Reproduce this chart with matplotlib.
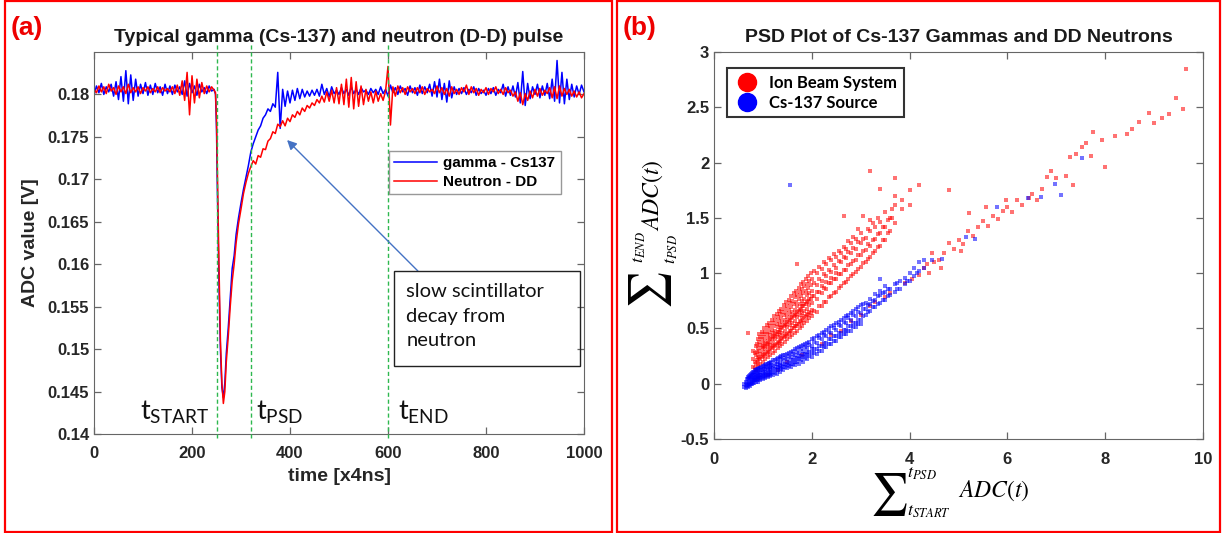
import numpy as np
import matplotlib

matplotlib.use("Agg")
import matplotlib.pyplot as plt
from matplotlib.lines import Line2D
from matplotlib.patches import Rectangle

# ---- panel (a): pulse traces, values in mV -------------------------------
T_BASE = list(range(0, 250, 5))
T_PULSE = [248, 250, 252, 255, 258, 261, 264, 267, 270, 274,
           278, 282, 286, 290, 295, 300, 305, 310, 315, 320]
T_TAIL = list(range(325, 1001, 5))

GAMMA_BASE = [179.9, 181.0, 180.2, 181.3, 180.0, 180.9, 180.3, 181.2, 179.8, 181.5,
              179.4, 182.1, 179.2, 182.8, 178.9, 182.3, 179.3, 181.8, 179.8, 181.2,
              180.1, 181.4, 179.9, 181.1, 180.0, 181.3, 180.2, 180.9, 179.9, 181.2,
              180.1, 181.0, 180.0, 181.1, 180.3, 180.9, 180.0, 181.6, 179.8, 181.3,
              180.2, 181.0, 179.9, 181.2, 180.3, 180.8, 180.1, 181.0, 180.4, 180.6]
GAMMA_PULSE = [180.0, 176.0, 168.0, 158.0, 150.0, 145.5, 144.3, 146.0, 149.5, 152.5,
               156.0, 159.5, 161.0, 163.5, 165.5, 167.2, 168.8, 170.2, 171.6, 173.2]
GAMMA_TAIL = [174.2, 175.0, 175.8, 176.3, 177.2, 177.6, 178.3, 178.0, 178.9, 178.5,
              182.6, 176.0, 180.6, 178.6, 180.4, 179.0, 180.5, 179.3, 180.7, 179.5,
              180.6, 179.7, 180.4, 179.8, 180.5, 179.9, 180.6, 179.8, 181.2, 180.0,
              180.7, 179.7, 180.9, 180.1, 180.5, 180.0, 180.8, 180.1, 180.6, 179.9,
              180.9, 180.1, 180.6, 180.0, 180.8, 180.3, 180.5, 180.0, 180.7, 180.2,
              180.6, 180.0, 180.9, 180.1, 180.6, 179.8, 181.1, 180.2, 180.8, 180.0,
              181.0, 180.3, 180.7, 179.9, 181.0, 180.2, 180.8, 179.9, 181.1, 180.1,
              180.9, 180.2, 181.2, 179.8, 181.5, 179.7, 181.8, 179.4, 181.3, 179.1,
              181.6, 179.6, 180.9, 180.0, 180.7, 180.1, 180.8, 180.0, 180.6, 180.2,
              180.9, 179.9, 180.7, 180.1, 180.5, 179.9, 180.7, 180.1, 180.8, 179.9,
              180.6, 180.2, 181.2, 179.8, 180.9, 179.9, 181.0, 179.7, 181.4, 179.0,
              182.7, 178.7, 181.3, 179.5, 180.9, 180.0, 181.2, 179.6, 181.0, 179.9,
              181.3, 179.5, 181.8, 179.2, 184.0, 179.0, 182.6, 178.9, 181.8, 179.4,
              181.2, 179.7, 181.0, 180.0, 181.1, 180.3]

NEUTRON_BASE = [180.6, 180.2, 181.0, 180.3, 180.9, 180.1, 181.2, 180.4, 180.8, 180.0,
                181.0, 180.3, 180.9, 180.1, 181.2, 180.2, 180.8, 180.3, 180.9, 180.1,
                180.8, 180.4, 180.9, 180.2, 180.7, 180.3, 180.9, 180.2, 180.8, 180.4,
                180.7, 180.3, 180.9, 180.1, 181.1, 179.9, 181.6, 179.3, 182.6, 177.6,
                182.2, 179.0, 181.8, 179.6, 181.4, 180.1, 181.0, 180.3, 180.9, 180.5]
NEUTRON_PULSE = [180.2, 177.0, 170.0, 160.0, 151.0, 146.0, 143.6, 145.0, 148.5, 151.5,
                 155.0, 158.0, 160.0, 162.5, 164.8, 166.5, 168.3, 169.6, 170.7, 171.5]
NEUTRON_TAIL = [172.2, 171.8, 172.8, 172.6, 173.6, 173.5, 174.5, 174.8, 175.6, 175.4,
                176.5, 176.2, 176.9, 176.3, 177.2, 176.8, 177.6, 177.3, 178.0, 177.6,
                178.4, 178.0, 178.7, 178.4, 179.0, 178.7, 179.4, 179.0, 179.8, 179.1,
                180.3, 179.2, 180.5, 179.0, 180.8, 178.9, 181.2, 178.8, 181.8, 178.5,
                182.0, 178.3, 181.5, 178.6, 181.0, 178.8, 180.6, 179.2, 180.3, 179.0,
                180.4, 179.2, 180.1, 179.3, 180.4, 183.3, 176.4, 180.9, 179.8, 181.0,
                180.2, 180.8, 180.0, 180.9, 180.3, 180.7, 180.1, 180.8, 180.2, 180.9,
                180.0, 180.7, 180.3, 180.6, 180.1, 181.0, 180.2, 180.8, 180.0, 180.7,
                179.8, 180.9, 180.1, 180.6, 180.0, 180.8, 180.3, 181.1, 180.0, 180.9,
                180.2, 180.7, 179.9, 180.6, 180.2, 180.8, 180.0, 180.7, 180.3, 180.9,
                180.1, 180.6, 180.0, 180.8, 180.2, 180.5, 179.8, 180.3, 179.2, 180.2,
                178.8, 180.1, 179.3, 180.4, 179.6, 180.6, 179.8, 180.7, 179.9, 180.5,
                180.1, 180.8, 179.6, 180.9, 179.5, 181.0, 179.8, 180.7, 180.0, 180.6,
                179.8, 180.4, 179.7, 180.3, 179.6, 180.1]

MARKERS_T = [250, 320, 600]  # t_START, t_PSD, t_END

# ---- panel (b): PSD scatter, (x, [y values]) groups ------------------------
GAMMA_GROUPS = [
    (0.62, [-0.03, 0.0]), (0.66, [-0.04, 0.02, -0.01]), (0.70, [0.0, 0.04, -0.03, 0.06]),
    (0.74, [0.01, 0.05, -0.02, 0.08]), (0.78, [0.02, 0.07, 0.0, 0.10, 0.04]),
    (0.82, [0.03, 0.08, 0.01, 0.11, 0.05]), (0.86, [0.04, 0.09, 0.02, 0.12, 0.06]),
    (0.90, [0.05, 0.10, 0.02, 0.13, 0.07]), (0.95, [0.06, 0.11, 0.03, 0.14, 0.08]),
    (1.00, [0.07, 0.12, 0.04, 0.16, 0.10]), (1.05, [0.08, 0.13, 0.05, 0.17, 0.11]),
    (1.10, [0.09, 0.14, 0.06, 0.18, 0.12]), (1.15, [0.10, 0.15, 0.07, 0.19, 0.13]),
    (1.20, [0.11, 0.16, 0.08, 0.21, 0.14]), (1.28, [0.12, 0.18, 0.09, 0.22, 0.15]),
    (1.35, [0.14, 0.19, 0.11, 0.24, 0.17]), (1.42, [0.15, 0.21, 0.12, 0.26, 0.18]),
    (1.50, [0.17, 0.22, 0.14, 0.27, 0.20]), (1.58, [0.18, 0.24, 0.15, 0.29, 0.21]),
    (1.66, [0.20, 0.26, 0.17, 0.31, 0.23]), (1.74, [0.22, 0.28, 0.18, 0.33, 0.25]),
    (1.82, [0.24, 0.30, 0.20, 0.35, 0.27]), (1.90, [0.26, 0.32, 0.22, 0.37, 0.29]),
    (2.00, [0.28, 0.34, 0.24, 0.40, 0.31]), (2.10, [0.31, 0.37, 0.27, 0.43]),
    (2.20, [0.34, 0.40, 0.30, 0.46]), (2.30, [0.37, 0.43, 0.33, 0.49]),
    (2.40, [0.40, 0.46, 0.36, 0.52]), (2.50, [0.43, 0.49, 0.39, 0.55]),
    (2.60, [0.46, 0.52, 0.42, 0.58]), (2.70, [0.49, 0.55, 0.45, 0.61]),
    (2.80, [0.52, 0.58, 0.48, 0.64]), (2.90, [0.55, 0.61, 0.51, 0.68]),
    (3.00, [0.58, 0.64, 0.54, 0.71]), (3.10, [0.62, 0.68, 0.73]),
    (3.20, [0.66, 0.72, 0.77]), (3.30, [0.69, 0.76, 0.81]), (3.40, [0.73, 0.80, 0.84, 0.95]),
    (3.50, [0.76, 0.83, 0.88]), (3.60, [0.80, 0.86]), (3.70, [0.83, 0.90]),
    (3.80, [0.86, 0.93]), (3.90, [0.90, 0.96]), (4.00, [0.93, 1.00]),
    (4.10, [0.97, 1.05]), (4.20, [1.02, 1.10]), (4.30, [1.05, 1.12]), (4.45, [1.12]),
    (0.68, [0.01, -0.02, 0.04]), (0.72, [0.02, -0.01, 0.05, 0.07]),
    (0.76, [0.03, 0.06, 0.0, 0.09]), (0.80, [0.04, 0.08, 0.01, 0.11]),
    (0.84, [0.05, 0.09, 0.03, 0.12]), (0.88, [0.06, 0.10, 0.03, 0.13]),
    (0.92, [0.07, 0.11, 0.04, 0.14]), (0.97, [0.08, 0.12, 0.05, 0.15]),
    (1.02, [0.09, 0.13, 0.06, 0.16]), (1.07, [0.10, 0.15, 0.07, 0.18]),
    (1.12, [0.11, 0.16, 0.08, 0.19]), (1.17, [0.12, 0.17, 0.09, 0.20]),
    (1.24, [0.13, 0.18, 0.10, 0.21]), (1.31, [0.15, 0.20, 0.12, 0.23]),
    (1.38, [0.16, 0.22, 0.13, 0.25]), (1.46, [0.18, 0.23, 0.15, 0.26]),
    (1.54, [0.19, 0.25, 0.16, 0.28]), (1.62, [0.21, 0.27, 0.18, 0.30]),
    (1.70, [0.23, 0.29, 0.20, 0.32]), (1.78, [0.25, 0.31, 0.21, 0.34]),
    (1.86, [0.27, 0.33, 0.23, 0.36]), (1.95, [0.29, 0.35, 0.25, 0.38]),
    (2.05, [0.31, 0.38, 0.28, 0.41]), (2.15, [0.34, 0.41, 0.30, 0.44]),
    (2.25, [0.37, 0.44, 0.33, 0.47]), (2.35, [0.40, 0.47, 0.36, 0.50]),
    (2.45, [0.43, 0.50, 0.39, 0.53]), (2.55, [0.46, 0.53, 0.42, 0.56]),
    (2.65, [0.49, 0.56, 0.45, 0.59]), (2.75, [0.52, 0.59, 0.48, 0.62]),
    (2.85, [0.55, 0.62, 0.51, 0.66]), (2.95, [0.58, 0.65, 0.54, 0.69]),
    (3.05, [0.61, 0.68, 0.72]), (3.15, [0.65, 0.71]), (3.25, [0.69, 0.75]),
    (3.35, [0.72, 0.79]), (3.45, [0.76, 0.82]), (3.55, [0.79, 0.86]),
    (3.75, [0.86, 0.91]), (3.95, [0.93]), (4.15, [1.00]),
    (1.55, [1.80]), (4.67, [1.13]), (5.16, [1.33]), (5.33, [1.31]), (5.78, [1.60]),
    (6.43, [1.68]), (6.69, [1.69]), (6.98, [1.81]), (7.10, [1.71]), (7.53, [2.04]),
]

NEUTRON_GROUPS = [
    (0.70, [0.46]), (0.80, [0.15, 0.22, 0.30]), (0.85, [0.18, 0.26, 0.34, 0.12]),
    (0.90, [0.16, 0.24, 0.32, 0.40, 0.20, 0.05]), (0.95, [0.18, 0.27, 0.35, 0.42, 0.22]),
    (1.00, [0.20, 0.29, 0.37, 0.45, 0.25, 0.33]), (1.05, [0.22, 0.31, 0.39, 0.47, 0.27, 0.35]),
    (1.10, [0.24, 0.33, 0.41, 0.50, 0.29, 0.37, 0.08]), (1.15, [0.26, 0.35, 0.44, 0.52, 0.31, 0.40]),
    (1.20, [0.28, 0.37, 0.46, 0.55, 0.33, 0.42]), (1.25, [0.30, 0.40, 0.48, 0.58, 0.35, 0.44]),
    (1.30, [0.32, 0.42, 0.51, 0.60, 0.37, 0.47, 0.12]), (1.35, [0.34, 0.44, 0.53, 0.63, 0.39, 0.49]),
    (1.40, [0.36, 0.46, 0.56, 0.65, 0.41, 0.51]), (1.45, [0.38, 0.48, 0.58, 0.68, 0.43, 0.53]),
    (1.50, [0.40, 0.51, 0.60, 0.70, 0.45, 0.56, 0.20]), (1.55, [0.42, 0.53, 0.63, 0.73, 0.48, 0.58]),
    (1.60, [0.44, 0.55, 0.65, 0.75, 0.50, 0.60]), (1.65, [0.46, 0.57, 0.67, 0.78, 0.52, 0.62]),
    (1.70, [0.48, 0.60, 0.70, 0.80, 0.54, 0.65, 1.08]), (1.75, [0.50, 0.62, 0.72, 0.83, 0.57, 0.67]),
    (1.80, [0.52, 0.64, 0.75, 0.86, 0.59, 0.70, 0.26]), (1.85, [0.55, 0.66, 0.77, 0.88, 0.61, 0.72]),
    (1.90, [0.57, 0.68, 0.80, 0.90, 0.63, 0.74]), (1.95, [0.59, 0.71, 0.82, 0.93, 0.65, 0.77]),
    (2.00, [0.61, 0.73, 0.84, 0.95, 0.67, 0.79]), (2.10, [0.65, 0.77, 0.89, 1.00, 0.83]),
    (2.20, [0.70, 0.82, 0.93, 1.04, 0.88, 0.36]), (2.30, [0.74, 0.86, 0.97, 1.08, 0.92]),
    (2.40, [0.79, 0.91, 1.01, 1.12, 0.96, 0.44]), (2.50, [0.83, 0.95, 1.05, 1.15, 1.00]),
    (2.60, [0.88, 0.99, 1.10, 1.18, 0.48]), (2.65, [1.52]), (2.70, [0.92, 1.03, 1.14, 1.22]),
    (2.80, [0.97, 1.08, 1.18, 1.27, 0.57]), (2.90, [1.01, 1.12, 1.22, 1.31]),
    (3.00, [1.06, 1.16, 1.27, 1.36, 0.62]), (3.05, [1.52]), (3.10, [1.10, 1.21, 1.32]),
    (3.20, [1.15, 1.25, 1.38, 1.48, 1.92, 0.70]), (3.30, [1.20, 1.31, 1.42, 0.74]),
    (3.40, [1.25, 1.36, 1.46, 1.76]), (3.50, [1.30, 1.42, 1.55, 0.78]), (3.60, [1.38, 1.50, 0.82]),
    (3.70, [1.45, 1.62, 1.70, 1.86]), (3.85, [1.58, 1.66]), (3.90, [0.91]),
    (0.83, [0.20, 0.28, 0.14]), (0.88, [0.21, 0.29, 0.36]), (0.93, [0.23, 0.30, 0.38, 0.45]),
    (0.98, [0.24, 0.32, 0.40, 0.47]), (1.03, [0.26, 0.34, 0.42, 0.50]),
    (1.08, [0.28, 0.36, 0.45, 0.53]), (1.13, [0.30, 0.38, 0.47, 0.55]),
    (1.18, [0.32, 0.40, 0.49, 0.58]), (1.23, [0.34, 0.43, 0.52, 0.61]),
    (1.28, [0.36, 0.45, 0.54, 0.63]), (1.33, [0.38, 0.47, 0.57, 0.66]),
    (1.38, [0.40, 0.50, 0.59, 0.68]), (1.43, [0.42, 0.52, 0.62, 0.71]),
    (1.48, [0.44, 0.54, 0.64, 0.74]), (1.53, [0.46, 0.57, 0.67, 0.76]),
    (1.58, [0.48, 0.59, 0.69, 0.79]), (1.63, [0.50, 0.61, 0.72, 0.82]),
    (1.68, [0.52, 0.63, 0.74, 0.84]), (1.73, [0.54, 0.66, 0.77, 0.87]),
    (1.78, [0.56, 0.68, 0.79, 0.90]), (1.83, [0.58, 0.70, 0.82, 0.92]),
    (1.88, [0.60, 0.72, 0.84, 0.95]), (1.93, [0.62, 0.75, 0.87, 0.97]),
    (1.98, [0.64, 0.77, 0.89, 1.00]), (2.05, [0.66, 0.79, 0.91, 1.02]),
    (2.15, [0.70, 0.83, 0.95, 1.06]), (2.25, [0.74, 0.87, 0.99, 1.10]),
    (2.35, [0.78, 0.91, 1.03, 1.14]), (2.45, [0.82, 0.95, 1.07, 1.17]),
    (2.55, [0.87, 0.99, 1.11, 1.20]), (2.65, [0.91, 1.03, 1.15, 1.24]),
    (2.75, [0.95, 1.07, 1.19, 1.29]), (2.85, [0.99, 1.11, 1.23, 1.33]),
    (2.95, [1.04, 1.16, 1.28, 1.40]), (3.05, [1.09, 1.20, 1.31]),
    (3.15, [1.13, 1.26, 1.40]), (3.25, [1.18, 1.30, 1.45]), (3.35, [1.24, 1.35, 1.50]),
    (3.45, [1.30, 1.42]), (3.55, [1.36, 1.48]), (3.65, [1.50, 1.58]),
    (4.00, [1.62, 1.75]), (4.05, [0.95]), (4.20, [0.98, 1.80]), (4.30, [1.05]),
    (4.35, [1.08]), (4.40, [1.00]),
    (4.45, [1.18]), (4.50, [1.10]), (4.60, [1.12]), (4.65, [1.05]), (4.70, [1.18]),
    (4.80, [1.27, 1.75]), (4.90, [1.22]), (5.00, [1.30]), (5.05, [1.20]), (5.10, [1.26]),
    (5.20, [1.38]), (5.22, [1.54]), (5.30, [1.34]), (5.40, [1.42]), (5.50, [1.47]),
    (5.57, [1.60]), (5.60, [1.43]), (5.70, [1.52]), (5.80, [1.49]), (5.90, [1.56]),
    (5.98, [1.66]), (6.00, [1.60]), (6.10, [1.55]), (6.20, [1.66]), (6.30, [1.62]),
    (6.45, [1.68]), (6.50, [1.72]), (6.60, [1.66]), (6.70, [1.76]), (6.80, [1.87]),
    (6.90, [1.92]), (7.00, [1.86]), (7.20, [1.88]), (7.27, [2.05]), (7.35, [1.80]),
    (7.40, [2.08]), (7.53, [2.14]), (7.60, [2.18]), (7.70, [2.06]), (7.75, [2.28]),
    (7.94, [2.20]), (8.00, [1.96]), (8.20, [2.24]), (8.45, [2.26]), (8.55, [2.30]),
    (8.70, [2.37]), (8.90, [2.45]), (9.00, [2.36]), (9.16, [2.40]), (9.30, [2.44]),
    (9.45, [2.58]), (9.60, [2.48]), (9.65, [2.85]),
]


def expand(groups):
    xs, ys = [], []
    for x, yl in groups:
        for y in yl:
            xs.append(x)
            ys.append(y)
    return np.array(xs), np.array(ys)


W, H = 1222, 533
fig = plt.figure(figsize=(W / 100, H / 100), dpi=100)
plt.rcParams["font.family"] = ["Liberation Sans", "DejaVu Sans"]


def fx(px):
    return px / W


def fy(py):
    return 1 - py / H


TICK_KW = dict(direction="in", top=True, right=True, length=5, width=0.9,
               color="#666666", labelsize=12, labelcolor="#262626")

# ---- panel (a) ----
ax1 = fig.add_axes([fx(94), fy(434), fx(490), (434 - 52) / H])
t = np.concatenate([T_BASE, T_PULSE, T_TAIL])
v_g = np.concatenate([GAMMA_BASE, GAMMA_PULSE, GAMMA_TAIL]) / 1000
v_n = np.concatenate([NEUTRON_BASE, NEUTRON_PULSE, NEUTRON_TAIL]) / 1000
ax1.plot(t, v_g, color="#0000ff", lw=1.1, label="gamma - Cs137")
ax1.plot(t, v_n, color="#ff0000", lw=1.1, label="Neutron - DD")
ax1.set_xlim(0, 1000)
ax1.set_ylim(0.14, 0.185)
ax1.set_xticks(range(0, 1001, 200))
ax1.set_yticks(np.arange(0.14, 0.1801, 0.005))
ax1.yaxis.set_major_formatter(plt.FormatStrFormatter("%g"))
ax1.tick_params(**TICK_KW)
ax1.tick_params(axis="x", pad=9)
for lab in ax1.get_xticklabels() + ax1.get_yticklabels():
    lab.set_fontweight("bold")
for s in ax1.spines.values():
    s.set_color("#666666")
ax1.set_xlabel("time [x4ns]", fontsize=14, fontweight="bold", color="#262626", labelpad=5)
ax1.set_ylabel("ADC value [V]", fontsize=14, fontweight="bold", color="#262626", labelpad=6)
ax1.set_title("Typical gamma (Cs-137) and neutron (D-D) pulse", fontsize=14,
              fontweight="bold", color="#1a1a1a", pad=7)
for tm in MARKERS_T:
    ax1.axvline(tm, ymin=-0.01, ymax=1.02, color="#2eb84f", lw=1.0, ls=(0, (3, 2)),
                clip_on=False, zorder=3)
leg1 = ax1.legend(loc="upper left", bbox_to_anchor=(0.602, 0.741), borderaxespad=0,
                  fancybox=False, edgecolor="#7f7f7f", handlelength=2.8,
                  prop=dict(size=11, weight="bold"), labelspacing=0.3,
                  borderpad=0.35, handletextpad=0.4)
leg1.get_frame().set_linewidth(1.0)

for name, x0 in [("START", 94), ("PSD", 331), ("END", 620)]:
    ax1.text(x0, 0.1417, r"$\mathregular{t_{%s}}$" % name, fontsize=19.5,
             family="Lato", va="baseline", ha="left", color="#111111")

ax1.add_patch(Rectangle((612, 0.1480), 380, 0.0112, fill=False, ec="#222222", lw=1.0,
                        zorder=4))
ax1.text(637, 0.1578, "slow scintillator\ndecay from\nneutron", family="Lato",
         fontsize=14.5, va="top", ha="left", linespacing=1.55, color="#111111")
ax1.annotate("", xy=(394, 0.17463), xytext=(661, 0.1592),
             arrowprops=dict(arrowstyle="-|>", color="#4472c4", lw=1.0,
                             mutation_scale=14, shrinkA=0, shrinkB=0))

# ---- panel (b) ----
ax2 = fig.add_axes([fx(714), fy(439), fx(489), (439 - 52) / H])
xn, yn = expand(NEUTRON_GROUPS)
xg, yg = expand(GAMMA_GROUPS)
ax2.scatter(xn, yn, s=8, marker="s", color="#ff0000", alpha=0.55, linewidths=0)
ax2.scatter(xg, yg, s=8, marker="s", color="#0000ff", alpha=0.55, linewidths=0)
ax2.set_xlim(0, 10)
ax2.set_ylim(-0.5, 3)
ax2.set_xticks(range(0, 11, 2))
ax2.set_yticks(np.arange(-0.5, 3.01, 0.5))
ax2.yaxis.set_major_formatter(plt.FormatStrFormatter("%g"))
ax2.tick_params(**TICK_KW)
ax2.tick_params(axis="x", pad=9)
for lab in ax2.get_xticklabels() + ax2.get_yticklabels():
    lab.set_fontweight("bold")
for s in ax2.spines.values():
    s.set_color("#666666")
ax2.set_title("PSD Plot of Cs-137 Gammas and DD Neutrons", fontsize=14,
              fontweight="bold", color="#1a1a1a", pad=7)
handles = [Line2D([], [], ls="none", marker="o", ms=13, color="#ff0000"),
           Line2D([], [], ls="none", marker="o", ms=13, color="#0000ff")]
leg2 = ax2.legend(handles, ["Ion Beam System", "Cs-137 Source"], loc="upper left",
                  bbox_to_anchor=(0.027, 0.959), borderaxespad=0, fancybox=False,
                  edgecolor="black", prop=dict(family="Lato", size=12, weight="bold"),
                  labelspacing=0.25, borderpad=0.4, handletextpad=0.5, handlelength=1.6)
leg2.get_frame().set_linewidth(1.5)

# summation axis labels, assembled from parts
MATH = dict(math_fontfamily="stix", color="black")
fig.patches.append(Rectangle((fx(866), fy(524)), fx(170), (524 - 464) / H,
                             transform=fig.transFigure, fc="white", ec="none", zorder=5))
fig.text(fx(870), fy(494), r"$\sum$", fontsize=30, ha="left", va="center", zorder=6, **MATH)
fig.text(fx(907), fy(474), r"$t_{PSD}$", fontsize=13, ha="left", va="center", zorder=6, **MATH)
fig.text(fx(907), fy(512), r"$t_{START}$", fontsize=13, ha="left", va="center", zorder=6, **MATH)
fig.text(fx(958), fy(491), r"$ADC(t)$", fontsize=17, ha="left", va="center", zorder=6, **MATH)

fig.text(fx(650), fy(290), r"$\sum$", fontsize=30, rotation=90, ha="center", va="center", **MATH)
fig.text(fx(639), fy(247), r"$t_{END}$", fontsize=13, rotation=90, ha="center", va="center", **MATH)
fig.text(fx(671), fy(249), r"$t_{PSD}$", fontsize=13, rotation=90, ha="center", va="center", **MATH)
fig.text(fx(653), fy(195), r"$ADC(t)$", fontsize=17, rotation=90, ha="center", va="center", **MATH)

# panel labels and red frames
fig.text(fx(11), fy(28), "(a)", fontsize=19, fontweight="bold", color="#ee0000", va="center")
fig.text(fx(623), fy(28), "(b)", fontsize=19, fontweight="bold", color="#ee0000", va="center")
for x0, x1 in [(5, 612), (617, 1220)]:
    fig.patches.append(Rectangle((fx(x0), fy(532)), fx(x1 - x0), 531 / H,
                                 transform=fig.transFigure, fill=False,
                                 ec="#ff0000", lw=1.6))

fig.savefig("out.png", dpi=100)
